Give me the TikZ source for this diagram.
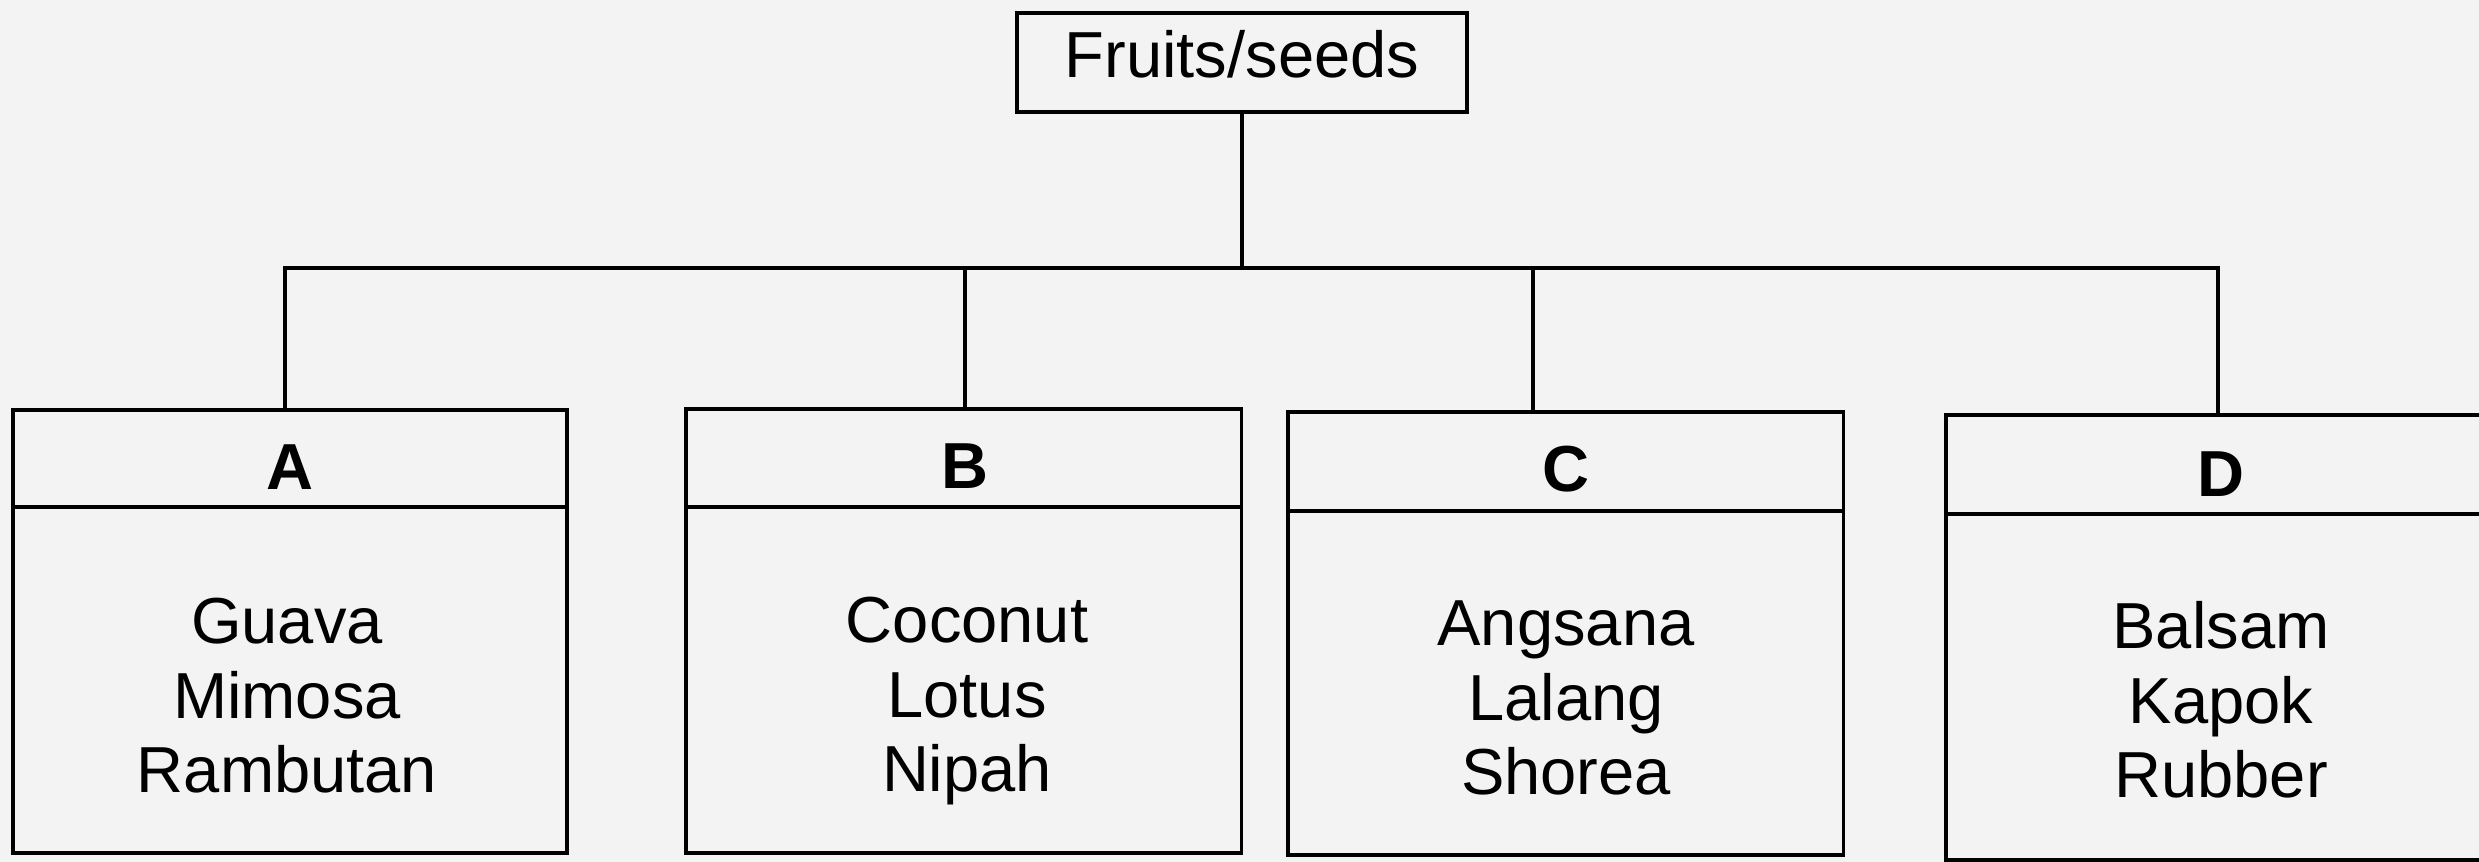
\documentclass[tikz,border=0pt]{standalone}
\usepackage{fontspec}
\setmainfont{Liberation Sans}
\definecolor{paper}{HTML}{F3F3F3}
\begin{document}
\begin{tikzpicture}[x=0.01cm,y=-0.01cm,
  line width=0.95pt,
  box/.style={draw, rectangle, inner sep=0pt, outer sep=0pt},
  txt/.style={font=\fontsize{18.5pt}{21.3pt}\selectfont, inner sep=0pt, anchor=base, align=center},
  head/.style={txt, font=\fontsize{18.5pt}{21.3pt}\selectfont\bfseries}]
\useasboundingbox (0,0) rectangle (2479,862);
\fill[paper] (0,0) rectangle (2479,862);
\clip (0,0) rectangle (2479,862);

% top node
\node[box, minimum width=4.50cm, minimum height=0.99cm] (top) at (1242,62.5) {};
\node[txt] (toplabel) at (1242,78) {Fruits/seeds};

% category boxes
\node[box, minimum width=5.54cm, minimum height=4.43cm] (A) at (290,631.5) {};
\node[box, minimum width=5.55cm, minimum height=4.44cm] (B) at (963.5,631) {};
\node[box, minimum width=5.55cm, minimum height=4.43cm] (C) at (1565.5,633.5) {};
\node[box, minimum width=5.55cm, minimum height=4.45cm] (D) at (2223.5,637.5) {};

% dividers
\draw (A.west |- 0,507) -- (A.east |- 0,507);
\draw (B.west |- 0,507) -- (B.east |- 0,507);
\draw (C.west |- 0,511) -- (C.east |- 0,511);
\draw (D.west |- 0,514) -- (D.east |- 0,514);

% headers
\node[head] (Ah) at (290,490) {A};
\node[head] (Bh) at (965,489) {B};
\node[head] (Ch) at (1566,492) {C};
\node[head] (Dh) at (2221,497) {D};

% bodies (base anchor = baseline of the last line)
\node[txt] (Ab) at (287,793) {Guava\\Mimosa\\Rambutan};
\node[txt] (Bb) at (967,792) {Coconut\\Lotus\\Nipah};
\node[txt] (Cb) at (1566,795) {Angsana\\Lalang\\Shorea};
\node[txt] (Db) at (2221,798) {Balsam\\Kapok\\Rubber};

% connectors
\coordinate (ja) at (285,268);
\coordinate (jb) at (965,268);
\coordinate (jc) at (1533,268);
\coordinate (jd) at (2218,268);
\draw (top.south) -- (top.south |- ja);
\draw (A.north -| ja) -- (ja) -- (jd) -- (D.north -| jd);
\draw (jb) -- (B.north -| jb);
\draw (jc) -- (C.north -| jc);
\end{tikzpicture}
\end{document}
